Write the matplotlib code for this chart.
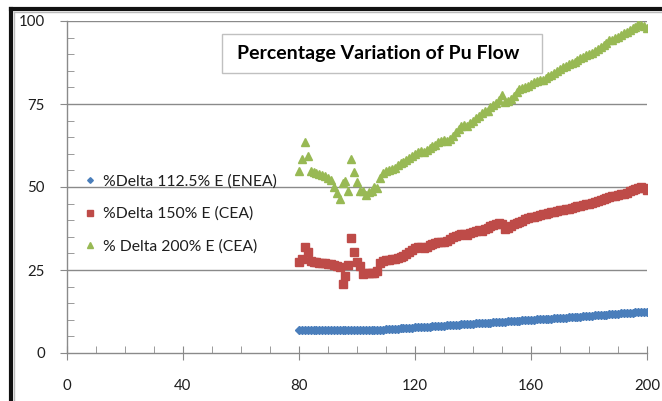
import matplotlib
matplotlib.use("Agg")
import matplotlib.pyplot as plt
from matplotlib.lines import Line2D
from matplotlib.patches import Rectangle
import numpy as np

# ---- data ----
x_values = list(range(80, 201))

blue_delta_112 = [
    6.8, 6.8, 6.8, 6.8, 6.8, 6.8, 6.8, 6.8, 6.8, 6.8,   # 80-89
    6.8, 6.8, 6.8, 6.8, 6.8, 6.8, 6.8, 6.8, 6.8, 6.8,   # 90-99
    6.8, 6.8, 6.8, 6.8, 6.8, 6.8, 6.8, 6.8, 7.0, 7.0,   # 100-109
    7.1, 7.2, 7.2, 7.3, 7.3, 7.4, 7.4, 7.5, 7.5, 7.6,   # 110-119
    7.7, 7.7, 7.8, 7.8, 7.9, 7.9, 8.0, 8.1, 8.1, 8.2,   # 120-129
    8.2, 8.3, 8.3, 8.4, 8.5, 8.5, 8.6, 8.6, 8.7, 8.7,   # 130-139
    8.8, 8.9, 8.9, 9.0, 9.0, 9.1, 9.1, 9.2, 9.3, 9.3,   # 140-149
    9.4, 9.4, 9.5, 9.5, 9.6, 9.7, 9.7, 9.8, 9.8, 9.9,   # 150-159
    9.9, 10.0, 10.1, 10.1, 10.2, 10.2, 10.3, 10.3, 10.4, 10.5,  # 160-169
    10.5, 10.6, 10.6, 10.7, 10.7, 10.8, 10.9, 10.9, 11.0, 11.1,  # 170-179
    11.1, 11.2, 11.3, 11.3, 11.4, 11.5, 11.5, 11.6, 11.7, 11.7,  # 180-189
    11.8, 11.9, 11.9, 12.0, 12.1, 12.1, 12.2, 12.3, 12.3, 12.4,  # 190-199
    12.4,                                                       # 200
]

red_delta_150 = [
    27.3, 28.3, 32.0, 30.5, 27.7, 27.5, 27.3, 27.2, 27.0, 27.0,  # 80-89
    26.8, 26.7, 26.5, 26.3, 26.0, 20.8, 23.3, 26.5, 34.7, 30.5,  # 90-99
    27.3, 26.3, 23.7, 24.0, 24.0, 24.0, 24.0, 24.8, 27.0, 27.8,  # 100-109
    28.0, 28.0, 28.2, 28.3, 28.5, 28.8, 29.2, 29.7, 30.3, 31.0,  # 110-119
    31.5, 31.8, 31.8, 31.6, 32.0, 32.4, 32.8, 33.2, 33.5, 33.3,  # 120-129
    33.3, 33.6, 34.2, 34.8, 35.2, 35.5, 35.8, 35.8, 35.6, 36.0,  # 130-139
    36.5, 36.8, 37.0, 36.8, 37.2, 37.7, 38.2, 38.6, 39.0, 39.3,  # 140-149
    39.0, 37.3, 37.8, 38.3, 38.8, 39.3, 39.6, 39.8, 40.3, 40.7,  # 150-159
    41.0, 41.0, 41.3, 41.6, 41.8, 42.0, 42.2, 42.4, 42.6, 42.8,  # 160-169
    43.0, 43.1, 43.3, 43.5, 43.7, 44.0, 44.2, 44.4, 44.6, 44.8,  # 170-179
    45.0, 45.3, 45.5, 45.8, 46.2, 46.5, 46.7, 47.0, 47.2, 47.4,  # 180-189
    47.6, 47.8, 48.0, 48.3, 48.7, 49.2, 49.5, 49.7, 50.0, 49.8,  # 190-199
    49.2,                                                       # 200
]

green_delta_200 = [
    54.8, 58.3, 63.6, 59.3, 54.8, 54.5, 54.2, 54.0, 53.7, 53.3,  # 80-89
    52.8, 52.1, 50.1, 48.1, 46.3, 51.1, 51.9, 48.9, 58.3, 54.6,  # 90-99
    51.4, 48.9, 48.9, 47.6, 48.5, 48.9, 50.1, 49.6, 52.6, 54.1,  # 100-109
    54.9, 55.2, 55.3, 55.8, 56.5, 57.2, 57.6, 58.2, 58.8, 59.4,  # 110-119
    60.0, 60.6, 60.8, 60.5, 61.2, 61.8, 62.3, 62.8, 63.5, 64.0,  # 120-129
    64.2, 64.0, 64.6, 65.5, 66.5, 67.5, 68.5, 68.7, 68.3, 69.2,  # 130-139
    70.0, 70.8, 71.5, 72.2, 73.0, 73.0, 74.0, 74.8, 75.2, 76.3,  # 140-149
    77.7, 75.5, 76.0, 76.6, 77.5, 78.5, 79.5, 79.8, 80.0, 80.3,  # 150-159
    81.0, 81.5, 81.8, 82.2, 82.3, 82.8, 83.4, 83.8, 84.2, 84.8,  # 160-169
    85.5, 86.0, 86.4, 87.0, 87.5, 87.8, 88.2, 88.8, 89.3, 89.8,  # 170-179
    90.2, 90.5, 91.0, 91.6, 92.2, 92.8, 93.5, 94.2, 94.3, 94.8,  # 180-189
    95.3, 95.8, 96.3, 96.8, 97.3, 97.8, 98.3, 99.0, 98.8, 98.5,  # 190-199
    97.8,                                                       # 200
]

series_labels = ["%Delta 112.5% E (ENEA)", "%Delta 150% E (CEA)", "% Delta 200% E (CEA)"]
title_text = "Percentage Variation of Pu Flow"
x_ticks = [0, 40, 80, 120, 160, 200]
y_ticks = [0, 25, 50, 75, 100]

# ---- style ----
FONT = ["Lato", "DejaVu Sans"]
plt.rcParams['font.family'] = FONT
GRID = "#8a8a8a"
TXT = "#1e1e1e"

fig = plt.figure(figsize=(6.62, 4.01), dpi=100)
ax = fig.add_axes([67/662, 1-353/401, (647-67)/662, (353-21)/401])

ax.set_xlim(0, 200)
ax.set_ylim(0, 100)

for yv in y_ticks[1:]:
    ax.axhline(yv, color=GRID, lw=1.0, zorder=1)

h1, = ax.plot(x_values, blue_delta_112, linestyle='none', marker='D', markersize=3.6,
              color='#4a7ebb', markeredgecolor='#4a7ebb', zorder=3, label=series_labels[0])
h2, = ax.plot(x_values, red_delta_150, linestyle='none', marker='s', markersize=5.2,
              color='#be4b48', markeredgecolor='#be4b48', zorder=3, label=series_labels[1])
h3, = ax.plot(x_values, green_delta_200, linestyle='none', marker='^', markersize=6.0,
              color='#98b954', markeredgecolor='#98b954', zorder=3, label=series_labels[2])

for s in ['top', 'right']:
    ax.spines[s].set_visible(False)
for s in ['left', 'bottom']:
    ax.spines[s].set_color(GRID)
    ax.spines[s].set_linewidth(1.0)

ax.set_xticks(x_ticks)
ax.set_xticks(np.arange(0, 201, 10), minor=True)
ax.set_yticks(y_ticks)
ax.set_yticks(np.arange(0, 101, 5), minor=True)
ax.tick_params(axis='x', which='major', direction='inout', length=10, color=GRID,
               labelsize=10.8, labelcolor=TXT, pad=14)
ax.tick_params(axis='x', which='minor', direction='in', length=5, color=GRID)
ax.tick_params(axis='y', which='major', direction='out', length=5, color=GRID,
               labelsize=10.8, labelcolor=TXT, pad=11)
ax.tick_params(axis='y', which='minor', direction='in', length=5, color=GRID)

# title box
ax.add_patch(Rectangle((222/662, 1-73/401), (542-222)/662, (73-34)/401,
                       transform=fig.transFigure, facecolor='white',
                       edgecolor='#c0c0c0', lw=1.0, zorder=4))
fig.text(378/662, 1-54/401, title_text, ha='center', va='center',
         fontsize=14, fontweight='bold', color='black', zorder=5)

leg = ax.legend(handles=[h1, h2, h3], loc='center left',
                bbox_to_anchor=(84/662, 1-214/401), bbox_transform=fig.transFigure,
                frameon=False, fontsize=11.3, handlelength=0.75, handletextpad=0.45,
                labelspacing=1.15, borderpad=0, borderaxespad=0, markerscale=0.8)
for t in leg.get_texts():
    t.set_color(TXT)

# outer frame (cropped screenshot border)
fig.add_artist(Line2D([11/662, 11/662], [0, 1-9/401], transform=fig.transFigure,
                      color='#111111', lw=3.0))
fig.add_artist(Line2D([11/662, 1], [1-9/401, 1-9/401], transform=fig.transFigure,
                      color='#111111', lw=3.0))
fig.add_artist(Line2D([14/662, 14/662], [0, 1-12/401], transform=fig.transFigure,
                      color='#bbbbbb', lw=1.0))
fig.add_artist(Line2D([14/662, 1], [1-12/401, 1-12/401], transform=fig.transFigure,
                      color='#bbbbbb', lw=1.0))

fig.savefig("out.png", dpi=100)
